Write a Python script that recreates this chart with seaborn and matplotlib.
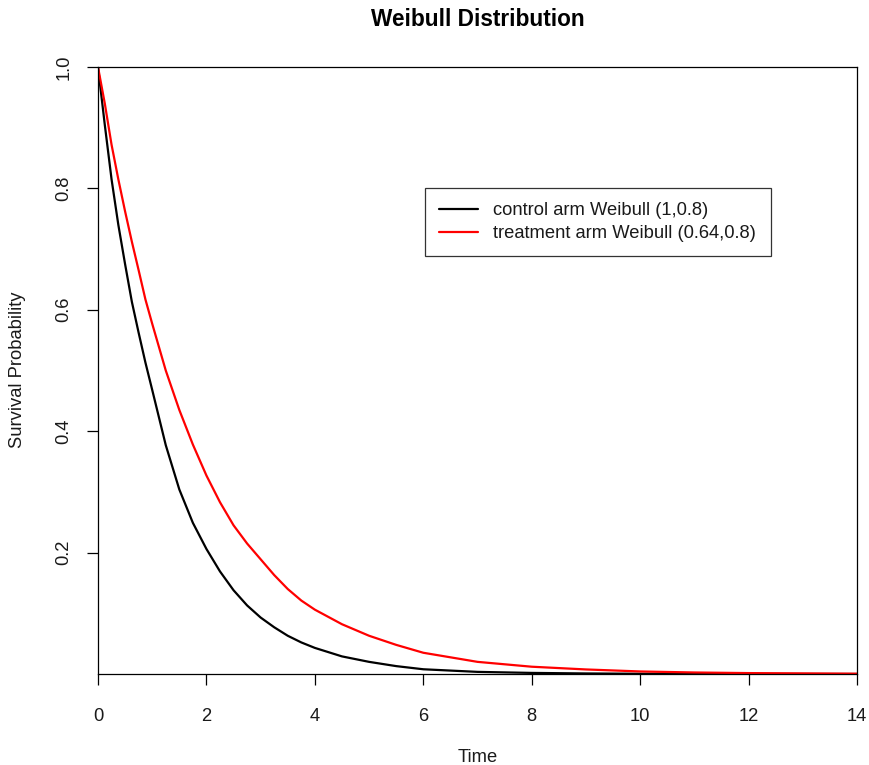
import matplotlib
matplotlib.use("Agg")
import matplotlib.pyplot as plt
import seaborn as sns
import pandas as pd
from matplotlib.lines import Line2D

# ---- data ----
time_points = [0, 0.125, 0.25, 0.375, 0.5, 0.625, 0.75, 0.875, 1.0, 1.25, 1.5, 1.75,
               2.0, 2.25, 2.5, 2.75, 3.0, 3.25, 3.5, 3.75, 4.0, 4.5, 5.0, 5.5, 6.0, 7.0,
               8.0, 9.0, 10.0, 11.0, 12.0, 14.0]
control_surv = [1.0, 0.905, 0.815, 0.74, 0.675, 0.613, 0.562, 0.513, 0.468, 0.377, 0.304,
                0.249, 0.206, 0.169, 0.138, 0.113, 0.093, 0.077, 0.063, 0.052, 0.043,
                0.029, 0.020, 0.013, 0.0078, 0.0035, 0.0018, 0.0009, 0.0004, 0.0002,
                0.0001, 0.0]
treatment_surv = [1.0, 0.94, 0.872, 0.815, 0.762, 0.712, 0.665, 0.617, 0.577, 0.50, 0.435,
                  0.378, 0.327, 0.283, 0.245, 0.215, 0.189, 0.163, 0.14, 0.121, 0.106,
                  0.082, 0.063, 0.048, 0.035, 0.020, 0.012, 0.0075, 0.0042, 0.0025,
                  0.0015, 0.0005]
series_labels = ["control arm Weibull (1,0.8)", "treatment arm Weibull (0.64,0.8)"]
series_colors = ["black", "red"]
x_ticks = [0, 2, 4, 6, 8, 10, 12, 14]
y_ticks = [0.2, 0.4, 0.6, 0.8, 1.0]
title = "Weibull Distribution"
x_label = "Time"
y_label = "Survival Probability"

df = pd.concat([
    pd.DataFrame({"time": time_points, "surv": control_surv, "arm": series_labels[0]}),
    pd.DataFrame({"time": time_points, "surv": treatment_surv, "arm": series_labels[1]}),
])

sns.set_style("ticks")
plt.rcParams["font.family"] = ["Liberation Sans", "DejaVu Sans"]

FS = 13.2
W, H = 870, 765
fig = plt.figure(figsize=(W / 100, H / 100), dpi=100)
ax = fig.add_axes([98 / W, 1 - 674 / H, (857 - 98) / W, (674 - 67) / H])

sns.lineplot(data=df, x="time", y="surv", hue="arm", palette=dict(zip(series_labels, series_colors)),
             estimator=None, sort=True, linewidth=1.6, legend=False, ax=ax)

ax.set_xlim(0, 14)
ax.set_ylim(0, 1)
ax.set_xticks(x_ticks)
ax.set_xticklabels([str(t) for t in x_ticks])
ax.set_yticks(y_ticks)
ax.set_yticklabels([f"{v:.1f}" for v in y_ticks], rotation=90, va="center")
ax.tick_params(axis="both", direction="out", length=8, width=0.9, colors="black",
               labelsize=FS, labelcolor="#1a1a1a")
ax.tick_params(axis="x", pad=16.5)
ax.tick_params(axis="y", pad=10.5)
for s in ax.spines.values():
    s.set_visible(True)
    s.set_color("black")
    s.set_linewidth(0.9)
ax.set_xlabel("")
ax.set_ylabel("")

fig.text(477.5 / W, 1 - 20 / H, title, ha="center", va="center", fontsize=16.3, fontweight="bold",
         color="black")
fig.text(477.5 / W, 1 - 757 / H, x_label, ha="center", va="center", fontsize=FS, color="#1a1a1a")
fig.text(18 / W, 1 - 370 / H, y_label, ha="center", va="center", rotation=90, fontsize=FS,
         color="#1a1a1a")

handles = [Line2D([0], [0], color=c, lw=1.6) for c in series_colors]
leg = ax.legend(handles, series_labels, loc="upper left",
                bbox_to_anchor=((425 - 98) / (857 - 98), (674 - 188) / (674 - 67)),
                borderaxespad=0, frameon=True, fancybox=False, fontsize=FS,
                handlelength=2.1, handletextpad=0.85, labelspacing=0.32, borderpad=0.78)
leg.get_frame().set_edgecolor("black")
leg.get_frame().set_linewidth(0.9)
for t in leg.get_texts():
    t.set_color("#1a1a1a")

fig.savefig("out.png", dpi=100)
